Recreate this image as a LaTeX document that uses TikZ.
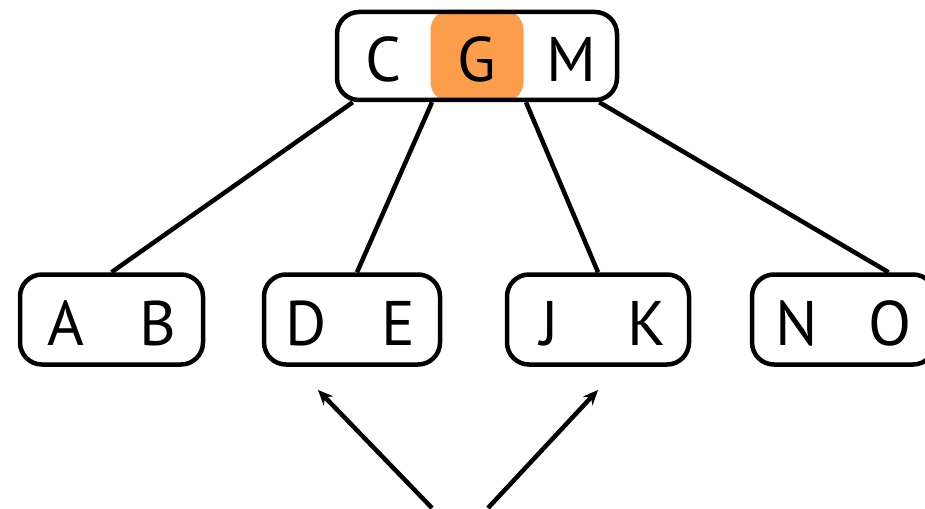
\documentclass[tikz,border=0pt]{standalone}
\usepackage{fontspec}
\setmainfont{PT Sans}
\usetikzlibrary{arrows.meta}
\definecolor{keyorange}{RGB}{251,157,75}
\newcommand{\keypair}[3][92pt]{\makebox[0pt]{#2}\hspace{#1}\makebox[0pt]{#3}}

\begin{document}
\begin{tikzpicture}[
  x=1pt,y=-1pt,
  keybox/.style={
    draw=black,
    line width=4.5pt,
    rounded corners=22pt,
    minimum height=90pt,
    inner sep=0pt,
    text height=52pt,
    text depth=0pt,
    font=\fontsize{63}{66}\selectfont
  },
  hilite/.style={fill=keyorange,rounded corners=20pt,minimum width=93pt,minimum height=92pt,inner sep=0pt},
  tree/.style={line width=4.5pt},
  point/.style={-{Stealth[length=15pt,width=13pt]},line width=4.5pt}
]
\useasboundingbox (0,0) rectangle (925,508);
\node[hilite] (gkey) at (477,56) {};
\node[keybox,minimum width=280pt,minimum height=88pt] (cgm) at (477,56)
  {\makebox[0pt]{C}\hspace{94pt}\makebox[0pt]{G}\hspace{94pt}\makebox[0pt]{M}};
\node[keybox,minimum width=183pt] (ab) at (111.5,319.5) {\keypair{A}{B}};
\node[keybox,minimum width=176pt] (de) at (352,319.5) {\keypair{D}{E}};
\node[keybox,minimum width=182pt] (jk) at (598,319.5) {\keypair[97pt]{J}{K}};
\node[keybox,minimum width=183pt] (no) at (843.5,319.5) {\keypair[93pt]{N}{O}};
\draw[tree] ([xshift=18pt]cgm.south west) -- (ab.north);
\draw[tree] ([xshift=-45pt]cgm.south) -- ([xshift=5pt]de.north);
\draw[tree] ([xshift=49pt]cgm.south) -- (jk.north);
\draw[tree] ([xshift=-20pt]cgm.south east) -- ([xshift=45pt]no.north);
% pointers into the two middle children
\coordinate (tailL) at (432,508);
\coordinate (tailR) at (488,508);
\coordinate (headL) at (318,390);
\coordinate (headR) at (598,390);
\draw[point] (tailL) -- (headL);
\draw[point] (tailR) -- (headR);
\end{tikzpicture}
\end{document}
